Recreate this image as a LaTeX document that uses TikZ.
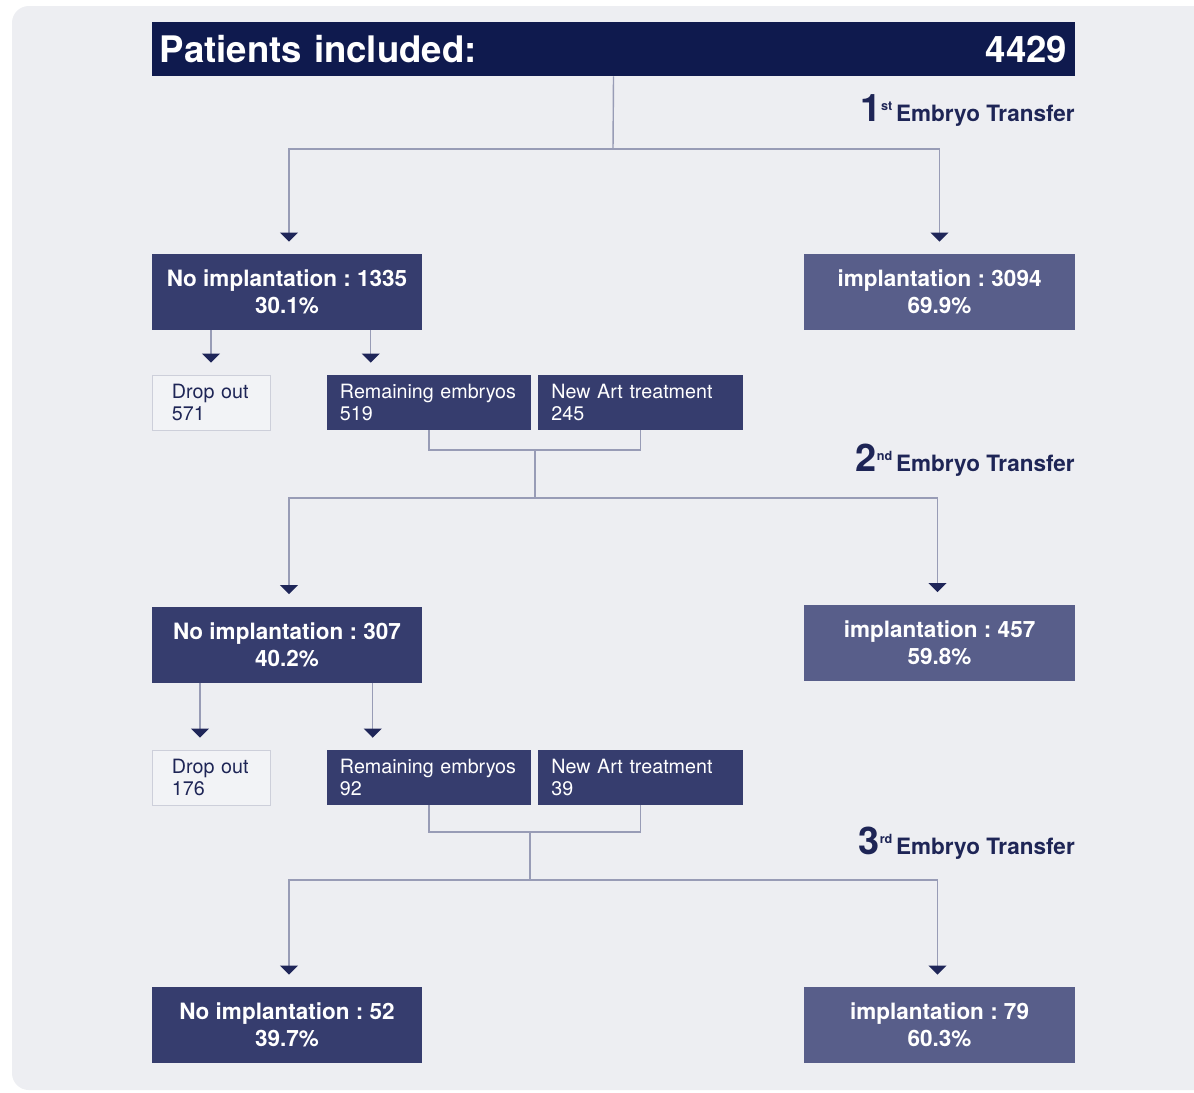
\documentclass[tikz,border=0pt]{standalone}
\usepackage{fontspec}
\setmainfont{TeX Gyre Heros}
\usetikzlibrary{arrows.meta}
\frenchspacing

\definecolor{panel}{HTML}{EDEEF2}
\definecolor{navy}{HTML}{0F1A4E}
\definecolor{slate}{HTML}{363D6E}
\definecolor{lavender}{HTML}{585E8A}
\definecolor{wire}{HTML}{989CB6}
\definecolor{tipc}{HTML}{1F2659}
\definecolor{ink}{HTML}{1E2556}
\definecolor{edge}{HTML}{CDCFDA}

\tikzset{
  head/.style = {fill=navy, text=white, font=\bfseries\fontsize{26}{30}\selectfont,
                 text width=22.675cm, inner xsep=0.2cm, minimum height=1.35cm},
  nobox/.style = {fill=slate, text=white, font=\bfseries\fontsize{16}{19}\selectfont,
                  align=center, minimum width=6.75cm, minimum height=1.9cm},
  yesbox/.style = {nobox, fill=lavender},
  smallbox/.style = {fill=slate, text=white, font=\fontsize{14}{16}\selectfont,
                     text width=4.45cm, inner xsep=0.325cm, align=left, minimum height=1.375cm},
  dropbox/.style = {smallbox, fill=panel!70!white, draw=edge, text=ink,
                    text width=1.95cm, inner xsep=0.5cm},
  transfer/.style = {anchor=base east, text=ink, font=\bfseries\fontsize{16}{19}\selectfont, inner sep=0},
  conn/.style = {draw=wire, line width=1pt},
  arr/.style = {conn, -{Triangle[width=0.45cm, length=0.23cm, color=tipc]}, shorten >=0.3cm}
}
\newcommand{\etnum}[2]{{\fontsize{27}{27}\selectfont #1}\raisebox{0.9ex}{\fontsize{9}{9}\selectfont #2}\,Embryo Transfer}

\begin{document}
\begin{tikzpicture}[x=0.025cm, y=-0.025cm]
		\useasboundingbox (0,0) rectangle (1194,1092);
		\fill [panel, rounded corners=12] (12,6) rectangle (1230,1090);
		
		\node (P) at (613.5,49) [head] {Patients included:\hfill 4429};
		\node (T1) at (1075,121) [transfer] {\etnum{1}{st}};
		
		\node (N1) at (287,292) [nobox] {No implantation : 1335\\30.1\%};
		\node (I1) at (939.5,292) [yesbox] {implantation : 3094\\69.9\%};
		\node (D1) at (211,402.5) [dropbox] {Drop out\\571};
		\node (R1) at (429,402.5) [smallbox] {Remaining embryos\\519};
		\node (A1) at (640.5,402.5) [smallbox] {New Art treatment\\245};
		
		\coordinate (J1) at (613,149);
		\draw [conn] (P.south) -- (J1);
		\draw [arr] (J1) -| ([xshift=0.05cm]N1.north);
		\draw [arr] (J1) -| (I1.north);
		\draw [arr] (N1.south -| D1.north) -- (D1.north);
		\draw [arr] ([xshift=1.1cm]N1.south -| R1.north west) -- ([xshift=1.1cm]R1.north west);
		
		\node (T2) at (1075,471) [transfer] {\etnum{2}{nd}};
		
		\node (N2) at (287,644.5) [nobox] {No implantation : 307\\40.2\%};
		\node (I2) at (939.5,642.5) [yesbox] {implantation : 457\\59.8\%};
		\node (D2) at (211,777.5) [dropbox] {Drop out\\176};
		\node (R2) at (429,777.5) [smallbox] {Remaining embryos\\92};
		\node (A2) at (640.5,777.5) [smallbox] {New Art treatment\\39};
		
		\coordinate (K1) at (535,450);
		\coordinate (J2) at (535,498);
		\draw [conn] (R1.south) |- (K1) -| (A1.south);
		\draw [conn] (K1) -- (J2);
		\draw [arr] (J2) -| ([xshift=0.05cm]N2.north);
		\draw [arr] (J2) -| ([xshift=-0.05cm]I2.north);
		\draw [arr] ([xshift=-0.275cm]N2.south -| D2.north) -- ([xshift=-0.275cm]D2.north);
		\draw [arr] ([xshift=1.15cm]N2.south -| R2.north west) -- ([xshift=1.15cm]R2.north west);
		
		\node (T3) at (1075,854) [transfer] {\etnum{3}{rd}};
		
		\node (N3) at (287,1025) [nobox] {No implantation : 52\\39.7\%};
		\node (I3) at (939.5,1025) [yesbox] {implantation : 79\\60.3\%};
		
		\coordinate (K2) at (530,832);
		\coordinate (J3) at (530,880);
		\draw [conn] (R2.south) |- (K2) -| (A2.south);
		\draw [conn] (K2) -- (J3);
		\draw [arr] (J3) -| ([xshift=0.05cm]N3.north);
		\draw [arr] (J3) -| ([xshift=-0.05cm]I3.north);
\end{tikzpicture}
\end{document}
